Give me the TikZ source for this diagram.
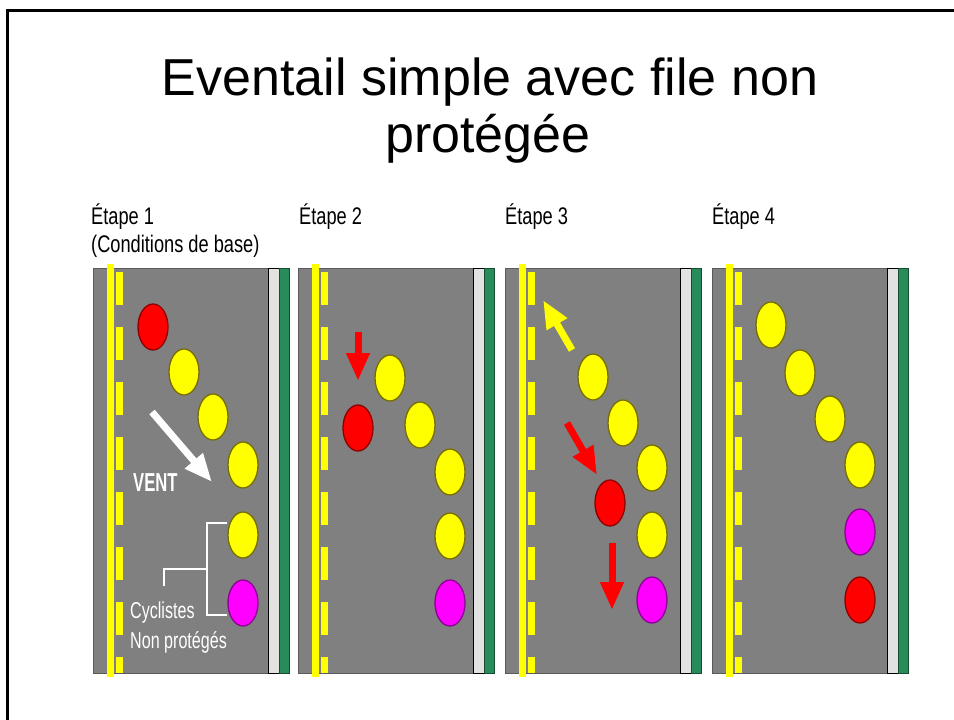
\documentclass[tikz,border=0pt]{standalone}
\usepackage{fontspec}
\setmainfont{Liberation Sans}
\newfontfamily\narrowfont[FakeStretch=0.76]{Liberation Sans}
\newfontfamily\cycfont[FakeStretch=0.7]{Liberation Sans}
\newfontfamily\ventfont[FakeStretch=0.64]{Liberation Sans}
\usetikzlibrary{arrows.meta,shapes.geometric}
\definecolor{roadgray}{RGB}{128,128,128}
\definecolor{stripwhite}{RGB}{226,226,226}
\definecolor{kerbgreen}{RGB}{40,140,90}
\definecolor{ylwedge}{RGB}{120,110,0}
\definecolor{rededge}{RGB}{140,0,0}
\definecolor{magfill}{RGB}{255,0,255}
\definecolor{magedge}{RGB}{140,0,150}
\definecolor{lineyellow}{RGB}{255,255,0}
\definecolor{redfill}{RGB}{255,0,0}
\tikzset{
  rider/.style={ellipse, minimum width=30pt, minimum height=46pt, inner sep=0pt, line width=1.3pt},
  yrider/.style={rider, fill=lineyellow, draw=ylwedge},
  rrider/.style={rider, fill=redfill, draw=rededge},
  mrider/.style={rider, fill=magfill, draw=magedge},
  blockarrow/.style={line width=7pt, -{Triangle[width=22pt,length=28pt]}},
  stagelabel/.style={anchor=base west, inner sep=0pt, font=\narrowfont\fontsize{24}{26}\selectfont},
  whitetext/.style={anchor=base west, inner sep=0pt, text=white, font=\cycfont\fontsize{23}{25}\selectfont},
}
\newcommand\roadlane[1]{%
  \begin{scope}[xshift=#1pt]
    \filldraw[fill=roadgray, draw=roadgray!70!black, line width=0.8pt] (0,268) rectangle (175,673);
    \filldraw[fill=stripwhite, draw=black, line width=0.8pt] (175,268) rectangle (186,673);
    \filldraw[fill=kerbgreen, draw=kerbgreen!55!black, line width=0.8pt] (186,268) rectangle (196,673);
    \fill[lineyellow] (14,264) rectangle (21,677);
    \draw[lineyellow, line width=7.5pt, dash pattern=on 33pt off 22pt] (26.25,272) -- (26.25,673);
  \end{scope}}
\begin{document}
\begin{tikzpicture}[x=1pt, y=-1pt]
\useasboundingbox (0,0) rectangle (954,720);
\fill[white] (0,0) rectangle (954,720);
% frame
\draw[black, line width=3pt] (7,721) -- (7,10) -- (955,10);
% title
\node[anchor=base, inner sep=0pt, font=\fontsize{52}{58}\selectfont] (t1) at (490,95) {Eventail simple avec file non};
\node[anchor=base, inner sep=0pt, font=\fontsize{52}{58}\selectfont] (t2) at (488,152) {protégée};
% stage labels
\node[stagelabel] (s1) at (91,224) {Étape 1};
\node[stagelabel] (s1b) at (91,252) {(Conditions de base)};
\node[stagelabel] (s2) at (299,224) {Étape 2};
\node[stagelabel] (s3) at (505,224) {Étape 3};
\node[stagelabel] (s4) at (712,224) {Étape 4};
% lanes
\roadlane{93}
\roadlane{298}
\roadlane{505}
\roadlane{712}
% panel 1
\node[rrider] (a1) at (153,327) {};
\node[yrider] (a2) at (184,372) {};
\node[yrider] (a3) at (213,417) {};
\node[yrider] (a4) at (243,465) {};
\node[yrider] (a5) at (243,535) {};
\node[mrider] (a6) at (243,603) {};
\coordinate (w1) at (152,412);
\coordinate (w2) at (212,482);
\draw[blockarrow, white] (w1) -- (w2);
\node[whitetext, font=\ventfont\bfseries\fontsize{26}{28}\selectfont] (vent) at (133,491) {VENT};
\node[whitetext] (cyc1) at (130,618) {Cyclistes};
\node[whitetext] (cyc2) at (130,648) {Non protégés};
\coordinate (b1) at (227,523);
\coordinate (b2) at (207,523);
\coordinate (b3) at (207,615);
\coordinate (b4) at (227,615);
\coordinate (b5) at (207,569);
\coordinate (b6) at (164,569);
\coordinate (b7) at (164,586);
\draw[white, line width=1.5pt] (b1) -- (b2) -- (b3) -- (b4);
\draw[white, line width=1.5pt] (b5) -- (b6) -- (b7);
% panel 2
\node[yrider] (c1) at (390,378) {};
\node[rrider] (c2) at (358,428) {};
\node[yrider] (c3) at (420,425) {};
\node[yrider] (c4) at (450,472) {};
\node[yrider] (c5) at (450,536) {};
\node[mrider] (c6) at (450,603) {};
\coordinate (r1) at (358,332);
\coordinate (r2) at (358,381);
\draw[blockarrow, redfill] (r1) -- (r2);
% panel 3
\node[yrider] (d1) at (593,377) {};
\node[yrider] (d2) at (623,423) {};
\node[yrider] (d3) at (652,468) {};
\node[rrider] (d4) at (610,503) {};
\node[yrider] (d5) at (652,535) {};
\node[mrider] (d6) at (652,600) {};
\coordinate (y1) at (572,350);
\coordinate (y2) at (543,300);
\draw[blockarrow, lineyellow] (y1) -- (y2);
\coordinate (r3) at (567,423);
\coordinate (r4) at (597,475);
\draw[blockarrow, redfill] (r3) -- (r4);
\coordinate (r5) at (612,543);
\coordinate (r6) at (612,610);
\draw[blockarrow, redfill] (r5) -- (r6);
% panel 4
\node[yrider] (e1) at (771,325) {};
\node[yrider] (e2) at (800,373) {};
\node[yrider] (e3) at (830,419) {};
\node[yrider] (e4) at (860,465) {};
\node[mrider] (e5) at (860,532) {};
\node[rrider] (e6) at (860,600) {};
\end{tikzpicture}
\end{document}
